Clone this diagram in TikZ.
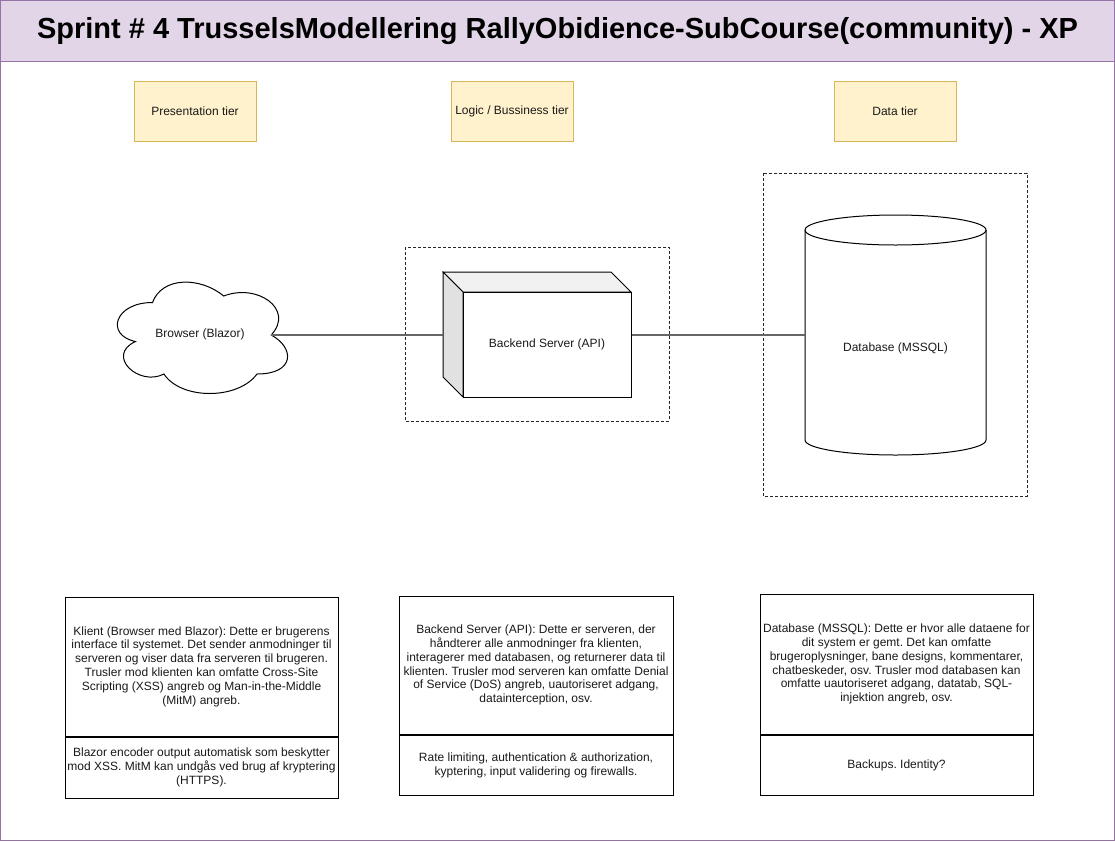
\documentclass[tikz,border=0pt]{standalone}
\usepackage{fontspec}
\setmainfont{Liberation Sans}
\definecolor{hdrfill}{HTML}{E1D5E7}
\definecolor{hdrline}{HTML}{9673A6}
\definecolor{tierfill}{HTML}{FFF2CC}
\definecolor{tierline}{HTML}{D6B656}
\definecolor{topface}{HTML}{F1F1F1}
\definecolor{sideface}{HTML}{E1E1E1}
\definecolor{txt}{HTML}{1A1A1A}
\frenchspacing
\begin{document}
\begin{tikzpicture}[x=1pt,y=-1pt,
  every node/.style={text=txt},
  tier/.style={draw=tierline, fill=tierfill, line width=1pt, minimum width=122pt, minimum height=60pt, inner sep=0pt, font=\fontsize{12}{14}\selectfont},
  shape3d/.style={draw=black, line width=1pt},
  dashbox/.style={draw=black!85, line width=0.9pt, dash pattern=on 3pt off 2pt},
  conn/.style={draw=black!60, line width=1.3pt},
  textbox/.style={draw=black, line width=1pt, inner sep=0pt, align=center, font=\fontsize{12}{13.8}\selectfont},
  plain/.style={inner sep=0pt, font=\fontsize{12}{14}\selectfont}
]
\useasboundingbox (0,0) rectangle (1115,841);
% frame and header
\draw[hdrline, fill=white, line width=1pt] (0.5,0.5) rectangle (1114,840.5);
\draw[hdrline, fill=hdrfill, line width=1pt] (0.5,0.5) rectangle (1114,61);
\node[font=\fontsize{29}{32}\selectfont\bfseries, text=black] (title) at (557.5,31) {Sprint \# 4 TrusselsModellering RallyObidience-SubCourse(community) - XP};

% tiers
\node[tier] (pres) at (195,111) {Presentation tier};
\node[tier] (logic) at (512,111) {Logic / Bussiness tier};
\node[tier] (data) at (895,111) {Data tier};

% dashed containers
\draw[dashbox] (405,247) rectangle (669,421);
\draw[dashbox] (763,173) rectangle (1027,496);

% cloud
\draw[shape3d, fill=white] (152.5,302.5)
  .. controls (114.5,302.5) and (105,335) .. (135.4,341.5)
  .. controls (105,355.8) and (139.2,387) .. (163.9,374)
  .. controls (181,400) and (238,400) .. (257,374)
  .. controls (295,374) and (295,348) .. (271.25,335)
  .. controls (295,309) and (257,283) .. (223.75,296)
  .. controls (200,276.5) and (162,276.5) .. (152.5,302.5) -- cycle;
\node[plain] (browser) at (200,334) {Browser (Blazor)};
\coordinate (cloudR) at (271.25,335);

% 3D server box
\draw[shape3d, fill=topface] (443,272) -- (611,272) -- (631,292) -- (463,292) -- cycle;
\draw[shape3d, fill=sideface] (443,272) -- (463,292) -- (463,397) -- (443,377) -- cycle;
\node[shape3d, fill=white, minimum width=168pt, minimum height=105pt, inner sep=0pt, font=\fontsize{12}{14}\selectfont] (server) at (547,344.5) {Backend Server (API)};
\coordinate (srvL) at (443,335);

% cylinder
\node[minimum width=181pt, minimum height=240pt, inner sep=0pt] (db) at (895.5,335) {};
\draw[shape3d, fill=white] (805,230) -- (805,440)
  arc[start angle=180, end angle=360, x radius=90.5pt, y radius=15pt]
  -- (986,230)
  arc[start angle=0, end angle=180, x radius=90.5pt, y radius=15pt] -- cycle;
\draw[shape3d] (805,230) arc[start angle=180, end angle=360, x radius=90.5pt, y radius=15pt];
\node[plain] (dbtext) at (895.5,348) {Database (MSSQL)};

% connectors
\draw[conn] (cloudR) -- (srvL);
\draw[conn] (server.east |- db.west) -- (db.west);

% description boxes
\node[textbox, minimum width=273pt, minimum height=139pt] (k1) at (201.5,666.5) {Klient (Browser med Blazor): Dette er brugerens\\interface til systemet. Det sender anmodninger til\\serveren og viser data fra serveren til brugeren.\\Trusler mod klienten kan omfatte Cross-Site\\Scripting (XSS) angreb og Man-in-the-Middle\\(MitM) angreb.};
\node[textbox, minimum width=273pt, minimum height=61pt, anchor=north] (k2) at (k1.south) {Blazor encoder output automatisk som beskytter\\mod XSS. MitM kan undgås ved brug af kryptering\\(HTTPS).};

\node[textbox, minimum width=274pt, minimum height=138pt] (s1) at (536,665) {Backend Server (API): Dette er serveren, der\\håndterer alle anmodninger fra klienten,\\interagerer med databasen, og returnerer data til\\klienten. Trusler mod serveren kan omfatte Denial\\of Service (DoS) angreb, uautoriseret adgang,\\datainterception, osv.};
\node[textbox, minimum width=274pt, minimum height=60pt, anchor=north] (s2) at (s1.south) {Rate limiting, authentication \& authorization,\\kyptering, input validering og firewalls.};

\node[textbox, minimum width=273pt, minimum height=140pt] (d1) at (896.5,664) {Database (MSSQL): Dette er hvor alle dataene for\\dit system er gemt. Det kan omfatte\\brugeroplysninger, bane designs, kommentarer,\\chatbeskeder, osv. Trusler mod databasen kan\\omfatte uautoriseret adgang, datatab, SQL-\\injektion angreb, osv.};
\node[textbox, minimum width=273pt, minimum height=60pt, anchor=north] (d2) at (d1.south) {Backups. Identity?};
\end{tikzpicture}
\end{document}
